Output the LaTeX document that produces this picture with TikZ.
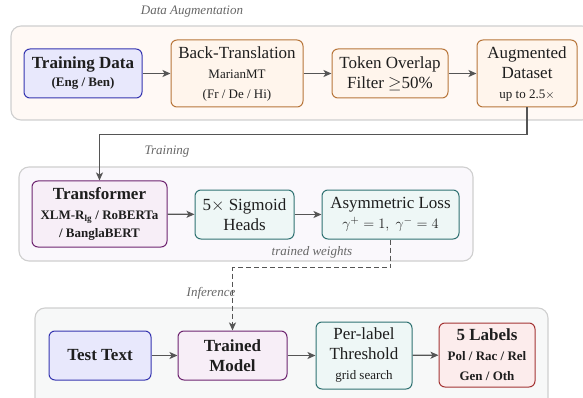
\documentclass[tikz,border=0pt]{standalone}
\usepackage{fontspec}
\setmainfont{Liberation Serif}
\usetikzlibrary{arrows.meta}
\definecolor{grpline}{HTML}{CFCFCF}
\definecolor{grpA}{HTML}{FFF9F5}
\definecolor{grpB}{HTML}{FAF8FC}
\definecolor{grpC}{HTML}{F7F8F8}
\definecolor{blueline}{HTML}{3535B0}
\definecolor{bluefill}{HTML}{E8E8FC}
\definecolor{orangeline}{HTML}{B8763A}
\definecolor{orangefill}{HTML}{FFF5EC}
\definecolor{purpleline}{HTML}{6E2470}
\definecolor{purplefill}{HTML}{F7EEF7}
\definecolor{tealline}{HTML}{2F7272}
\definecolor{tealfill}{HTML}{EEF7F6}
\definecolor{redline}{HTML}{A43434}
\definecolor{redfill}{HTML}{FCECEC}
\definecolor{arrcol}{HTML}{555555}
\definecolor{labcol}{HTML}{666666}
\definecolor{txtcol}{HTML}{1E1E1E}
\tikzset{
  grp/.style={draw=grpline, line width=1.1pt, rounded corners=10pt},
  box/.style={draw, line width=1pt, rounded corners=6pt, align=center, inner sep=0pt,
    text=txtcol, font=\fontsize{17}{20}\selectfont},
  bluebox/.style={box, draw=blueline, fill=bluefill},
  orangebox/.style={box, draw=orangeline, fill=orangefill},
  purplebox/.style={box, draw=purpleline, fill=purplefill},
  tealbox/.style={box, draw=tealline, fill=tealfill},
  redbox/.style={box, draw=redline, fill=redfill},
  arr/.style={draw=arrcol, line width=1.3pt, -{Stealth[length=8pt,width=7pt,inset=2pt]}},
  lab/.style={text=labcol, font=\fontsize{13}{15}\selectfont\itshape, inner sep=1pt}
}
\newcommand{\sm}[1]{{\fontsize{13}{20}\selectfont #1}}
\begin{document}
\begin{tikzpicture}[x=1pt,y=-1pt]
\useasboundingbox (0,0) rectangle (583,398);
\begin{scope}
\clip (0,0) rectangle (583,398);
% groups
\draw[grp, fill=grpA] (11,26) rectangle (592,120);
\draw[grp, fill=grpB] (19,167) rectangle (473,261);
\draw[grp, fill=grpC] (35,308) rectangle (548,410);
\end{scope}
% group labels
\node[lab] (lda) at (192,12) {Data Augmentation};
\node[lab] (ltr) at (167,152) {Training};
\node[lab] (ltw) at (312,252) {trained weights};
\node[lab] (linf) at (211,293) {Inference};
% row 1
\node[bluebox, minimum width=118pt, minimum height=49pt] (td) at (83,73.5)
  {\textbf{Training Data}\\[-2pt]\sm{\textbf{(Eng / Ben)}}};
\node[orangebox, minimum width=132pt, minimum height=67pt] (bt) at (237,73.5)
  {Back-Translation\\\sm{MarianMT}\\\sm{(Fr / De / Hi)}};
\node[orangebox, minimum width=116pt, minimum height=49pt] (to) at (390,73.5)
  {Token Overlap\\Filter $\geq$50\%};
\node[orangebox, minimum width=100pt, minimum height=67pt] (aug) at (527,73.5)
  {Augmented\\Dataset\\\sm{up to 2.5$\times$}};
% row 2
\node[purplebox, minimum width=135pt, minimum height=66pt] (tr) at (99.5,214)
  {\textbf{Transformer}\\\sm{\textbf{XLM-R\textsubscript{lg} / RoBERTa}}\\[-2pt]\sm{\textbf{/ BanglaBERT}}};
\node[tealbox, minimum width=99pt, minimum height=49pt] (sg) at (244.5,214.5)
  {5$\times$ Sigmoid\\Heads};
\node[tealbox, minimum width=137pt, minimum height=49pt] (al) at (390.5,214.5)
  {Asymmetric Loss\\{\fontsize{15}{20}\selectfont $\gamma^{+}=1,\ \gamma^{-}=4$}};
% row 3
\node[bluebox, minimum width=102pt, minimum height=49pt] (tt) at (100,355.5)
  {\textbf{Test Text}};
\node[purplebox, minimum width=109pt, minimum height=49pt] (tm) at (232.5,355.5)
  {\textbf{Trained}\\\textbf{Model}};
\node[tealbox, minimum width=96pt, minimum height=67pt] (pl) at (364,355.5)
  {Per-label\\Threshold\\\sm{grid search}};
\node[redbox, minimum width=96pt, minimum height=64pt] (fl) at (487,355)
  {\textbf{5 Labels}\\\sm{\textbf{Pol / Rac / Rel}}\\\sm{\textbf{Gen / Oth}}};
% arrows
\draw[arr] (td) -- (bt);
\draw[arr] (bt) -- (to);
\draw[arr] (to) -- (aug);
\draw[arr] (aug.south) -- ++(0,27) -| (tr.north);
\draw[arr] (tr) -- (sg);
\draw[arr] (sg) -- (al);
\draw[arr, dash pattern=on 5pt off 3pt] (al.south) -- ++(0,28) -| (tm.north);
\draw[arr] (tt) -- (tm);
\draw[arr] (tm) -- (pl);
\draw[arr] (pl) -- (fl);
\end{tikzpicture}
\end{document}
